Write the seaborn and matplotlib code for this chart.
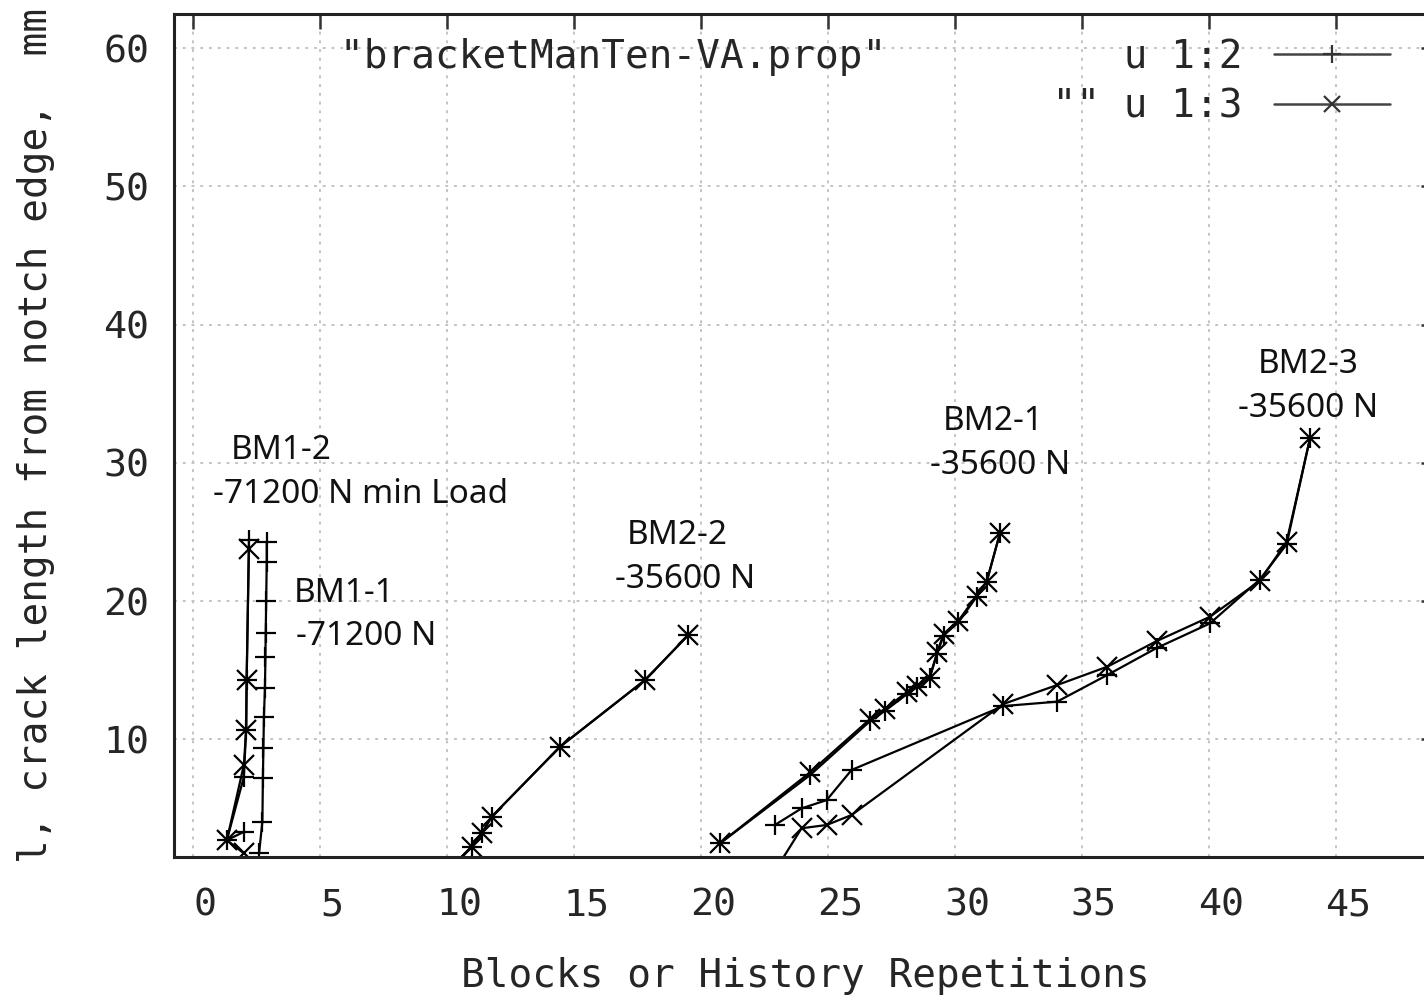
import numpy as np
import pandas as pd
import matplotlib
matplotlib.use("Agg")
import matplotlib.pyplot as plt
import matplotlib.transforms as mtransforms
from matplotlib.lines import Line2D
import seaborn as sns

# Crack growth data
# columns: blocks (col 1), crack length col 2, crack length col 3
bm1_2_blocks = [2.00, 1.33, 2.00, 2.09, 2.11, 2.20]
bm1_2_col2 = [3.30, 2.70, 7.27, 10.67, 14.29, 24.40]
bm1_2_col3 = [1.75, 2.70, 8.14, 10.67, 14.29, 23.75]

bm1_1_blocks = [2.90, 2.90, 2.88, 2.86, 2.85, 2.83, 2.79, 2.77, 2.75, 2.73, 2.60]
bm1_1_col2 = [24.30, 22.84, 20.00, 17.71, 15.97, 13.69, 11.63, 9.34, 7.22, 4.04, 1.77]
bm1_1_col3 = [np.nan] * 11

bm2_2_blocks = [10.03, 10.97, 11.37, 11.76, 14.45, 17.80, 19.50]
bm2_2_col2 = [0.50, 2.23, 3.20, 4.40, 9.46, 14.29, 17.54]
bm2_2_col3 = [0.50, 2.23, 3.20, 4.40, 9.46, 14.29, 17.54]

bm2_1_blocks = [20.75, 24.29, 26.65, 27.24, 28.10, 28.49, 29.00, 29.30, 29.55,
                30.13, 30.85, 31.25, 31.77]
bm2_1_col2 = [2.47, 7.40, 11.30, 12.05, 13.25, 13.75, 14.45, 16.20, 17.50,
              18.45, 20.30, 21.40, 24.90]
bm2_1_col3 = [2.47, 7.60, 11.45, 12.20, 13.40, 13.85, 14.40, 16.30, 17.60,
              18.55, 20.40, 21.40, 24.90]

bm2_3_blocks = [22.91, 23.96, 24.95, 25.93, 31.90, 34.02, 36.00, 37.94, 40.04,
                42.00, 43.06, 43.98]
bm2_3_col2 = [3.80, 5.00, 5.60, 7.78, 12.40, 12.72, 14.65, 16.60, 18.38,
              21.55, 24.10, 31.77]
bm2_3_col3 = [0.47, 3.56, 3.80, 4.52, 12.55, 13.92, 15.25, 17.10, 18.86,
              21.45, 24.30, 31.77]

specimens = {
    "BM1-2": (bm1_2_blocks, bm1_2_col2, bm1_2_col3),
    "BM1-1": (bm1_1_blocks, bm1_1_col2, bm1_1_col3),
    "BM2-2": (bm2_2_blocks, bm2_2_col2, bm2_2_col3),
    "BM2-1": (bm2_1_blocks, bm2_1_col2, bm2_1_col3),
    "BM2-3": (bm2_3_blocks, bm2_3_col2, bm2_3_col3),
}

# specimen labels: (text, x, y)
label_texts = ["BM1-2", "-71200 N min Load", "BM1-1", "-71200 N",
               "BM2-2", "-35600 N", "BM2-1", "-35600 N", "BM2-3", "-35600 N"]
label_x = [3.46, 6.61, 5.94, 6.81, 19.06, 19.37, 31.50, 31.77, 43.90, 43.90]
label_y = [30.92, 27.74, 20.58, 17.40, 24.77, 21.59, 33.02, 29.77, 37.14, 33.96]

x_ticks = [0, 5, 10, 15, 20, 25, 30, 35, 40, 45]
y_ticks = [10, 20, 30, 40, 50, 60]

rows = []
for name, (bx, c2, c3) in specimens.items():
    for b, a, c in zip(bx, c2, c3):
        rows.append({"spec": name, "blocks": b, "col2": a, "col3": c})
df = pd.DataFrame(rows)

sns.set_style("white")
plt.rcParams['font.family'] = ['DejaVu Sans Mono', 'DejaVu Sans']

fig = plt.figure(figsize=(14.24, 9.99), dpi=100)
ax = fig.add_axes([0.1222, 0.1421, 0.8862, 0.8438])

line_kw = dict(color="black", linewidth=1.6, markersize=14,
               markeredgewidth=1.6, markeredgecolor="black",
               estimator=None, sort=False, units="spec", legend=False)
sns.lineplot(data=df, x="blocks", y="col2", marker="+", ax=ax, **line_kw)
sns.lineplot(data=df.dropna(subset=["col3"]), x="blocks", y="col3",
             marker="x", ax=ax, **line_kw)

ax.set_xlim(-0.75, 48.94)
ax.set_ylim(1.48, 62.46)
ax.set_xticks(x_ticks)
ax.set_yticks(y_ticks)
ax.grid(True, color="#c4c4c4", linestyle=(0, (1.5, 3)), linewidth=1.4)
ax.set_axisbelow(True)

for s in ax.spines.values():
    s.set_color("#222222")
    s.set_linewidth(2.2)
ax.tick_params(direction="in", length=11, width=1.8, color="#333333",
               top=True, right=True, labelsize=27.5, pad=18)
ax.tick_params(axis="x", pad=22)

offset = mtransforms.ScaledTranslation(0.12, 0, fig.dpi_scale_trans)
for lab in ax.get_xticklabels():
    lab.set_transform(lab.get_transform() + offset)

ax.set_xlabel("Blocks or History Repetitions", fontsize=28.4)
ax.set_ylabel("l, crack length from notch edge,  mm", fontsize=28.4)
ax.xaxis.set_label_coords(0.5, -0.119)
ax.yaxis.set_label_coords(-0.094, 0.5)

for t, x, y in zip(label_texts, label_x, label_y):
    ax.text(x, y, t, ha="center", va="center", fontsize=24,
            family=["Noto Sans", "DejaVu Sans"], color="#111111")

handles = [
    Line2D([], [], color="#444444", lw=1.8, marker="+", markersize=13,
           markeredgewidth=1.6, markeredgecolor="#333333"),
    Line2D([], [], color="#444444", lw=1.8, marker="x", markersize=12,
           markeredgewidth=1.6, markeredgecolor="#333333"),
]
lab1 = '"bracketManTen-VA.prop"' + " " * 10 + "u 1:2"
lab2 = '"" u 1:3'.rjust(len(lab1))
fig.legend(handles, [lab1, lab2], loc="upper right",
           bbox_to_anchor=(1390 / 1424, 1 - 38 / 999),
           frameon=False, markerfirst=False, handlelength=2.95,
           handletextpad=0.8, labelspacing=0.3, borderpad=0,
           borderaxespad=0, prop={"family": "DejaVu Sans Mono", "size": 28.4})

fig.savefig("out.png", dpi=100)
